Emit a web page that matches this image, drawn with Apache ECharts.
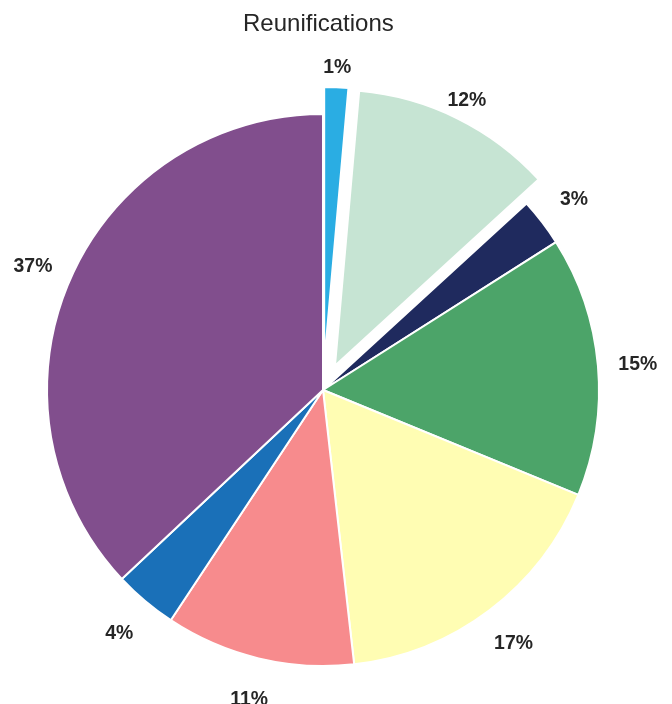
<!DOCTYPE html>
<html>
<head>
<meta charset="utf-8">
<script src="https://cdn.jsdelivr.net/npm/echarts@6/dist/echarts.min.js"></script>
<style>
html,body{margin:0;padding:0;background:#fff;}
#main{width:672px;height:704px;}
</style>
</head>
<body>
<div id="main"></div>
<script>
const titleText = 'Reunifications';
const categories = ['Slice 1', 'Slice 2', 'Slice 3', 'Slice 4', 'Slice 5', 'Slice 6', 'Slice 7', 'Slice 8'];
const values = [1.4, 11.8, 2.8, 15.2, 17.0, 11.1, 3.7, 37.0];
const colors = ['#2AADE3', '#C6E4D3', '#1F2A5E', '#4CA469', '#FFFDB3', '#F78B8D', '#1A70B8', '#814E8D'];
const exploded = [true, true, false, false, false, false, false, false];

const R = 276;
const CENTER = [323, 390];
const LABEL_CENTER = [323, 392];
const textColor = '#262626';
const fontFamily = '"Liberation Sans", Arial, Helvetica, sans-serif';

const pieData = categories.map((name, i) => ({
  name: name,
  value: values[i],
  selected: exploded[i],
  itemStyle: { color: colors[i] }
}));

const labelData = categories.map((name, i) => ({
  name: name,
  value: values[i],
  selected: exploded[i]
}));

const chart = echarts.init(document.getElementById('main'), null, { renderer: 'canvas' });
chart.setOption({
  animation: false,
  backgroundColor: '#ffffff',
  title: {
    text: titleText,
    left: 243,
    top: 12,
    padding: 0,
    textStyle: { fontFamily: fontFamily, fontSize: 24, fontWeight: 'normal', color: textColor }
  },
  series: [
    {
      type: 'pie',
      name: 'wedges',
      center: CENTER,
      radius: [0, R],
      startAngle: 90,
      clockwise: true,
      selectedMode: 'multiple',
      selectedOffset: 27,
      silent: true,
      avoidLabelOverlap: false,
      label: { show: false },
      labelLine: { show: false },
      itemStyle: { borderColor: '#ffffff', borderWidth: 2 },
      emphasis: { disabled: true },
      data: pieData
    },
    {
      type: 'pie',
      name: 'labels',
      center: LABEL_CENTER,
      radius: [R, R + 74],
      startAngle: 90,
      clockwise: true,
      selectedMode: 'multiple',
      selectedOffset: 9,
      silent: true,
      avoidLabelOverlap: false,
      itemStyle: { color: 'rgba(0,0,0,0)', borderWidth: 0 },
      emphasis: { disabled: true },
      labelLine: { show: false },
      label: {
        show: true,
        position: 'inside',
        rotate: 0,
        formatter: p => Math.round(p.percent) + '%',
        fontFamily: fontFamily,
        fontSize: 19.4,
        fontWeight: 'bold',
        color: textColor,
        textBorderWidth: 0
      },
      data: labelData
    }
  ]
});
</script>
</body>
</html>
